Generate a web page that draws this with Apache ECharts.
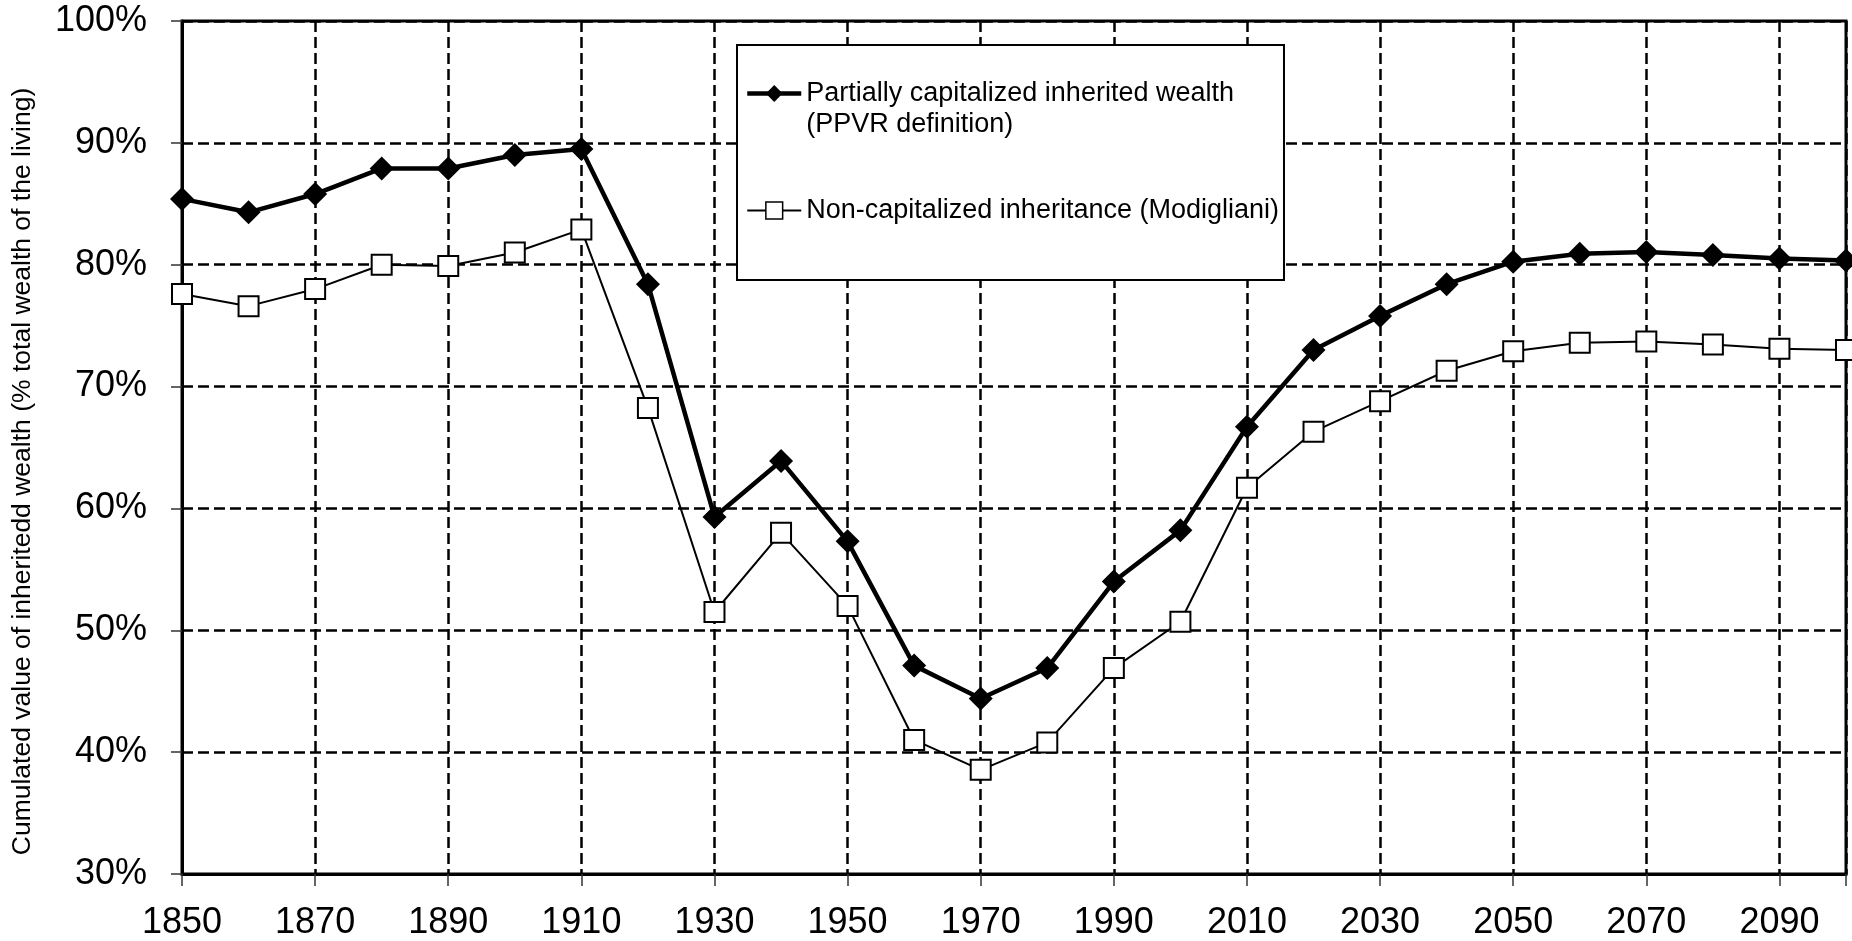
<!DOCTYPE html>
<html>
<head>
<meta charset="utf-8">
<title>Inherited wealth</title>
<script src="https://cdn.jsdelivr.net/npm/echarts@6/dist/echarts.min.js"></script>
<style>
html,body{margin:0;padding:0;background:#fff;}
#chart{width:1852px;height:941px;}
</style>
</head>
<body>
<div id="chart"></div>
<script>
// years, every decade
var years = [1850,1860,1870,1880,1890,1900,1910,1920,1930,1940,1950,1960,1970,1980,1990,2000,2010,2020,2030,2040,2050,2060,2070,2080,2090,2100];
// % of total wealth of the living
var capitalized = [85.4,84.3,85.8,87.9,87.9,89.0,89.5,78.4,59.3,63.9,57.3,47.1,44.4,46.9,54.0,58.2,66.7,73.0,75.8,78.4,80.25,80.9,81.05,80.8,80.5,80.35];
var nonCapitalized = [77.6,76.6,78.0,80.0,79.9,81.0,82.9,68.25,51.5,58.0,52.0,41.0,38.55,40.8,46.9,50.7,61.7,66.3,68.8,71.3,72.9,73.6,73.7,73.45,73.1,73.0];

var nameA = 'Partially capitalized inherited wealth (PPVR definition)';
var nameB = 'Non-capitalized inheritance (Modigliani)';

function pairs(vals){
	var out = [];
	for (var i = 0; i < years.length; i++) out.push([years[i], vals[i]]);
	return out;
}

var chart = echarts.init(document.getElementById('chart'));
var font = '"Liberation Sans", Arial, sans-serif';

chart.setOption({
	animation: false,
	backgroundColor: '#fff',
	textStyle: {fontFamily: font, color: '#000'},
	grid: {
		left: 182, right: 6, top: 21, bottom: 66,
		show: true, borderColor: '#000', borderWidth: 3, backgroundColor: '#fff'
	},
	legend: {
		orient: 'vertical',
		left: 737, top: 45,
		padding: [2, 5, 54, 8],
		itemWidth: 54, itemHeight: 21, itemGap: 55,
		backgroundColor: '#fff',
		borderColor: '#000', borderWidth: 2,
		selectedMode: false,
		data: [
			{name: nameA, lineStyle: {width: 4.5, color: '#000'}, itemStyle: {color: '#000', borderWidth: 0}},
			{name: nameB, lineStyle: {width: 2, color: '#000'}, itemStyle: {color: '#fff', borderColor: '#000', borderWidth: 1.5}}
		],
		formatter: function(name){
			// keep the icon on the first text line
			if (name === nameA) return '\nPartially capitalized inherited wealth\n(PPVR definition)';
			return name;
		},
		textStyle: {fontFamily: font, fontSize: 27, lineHeight: 31, color: '#000'}
	},
	xAxis: {
		type: 'value',
		min: 1850, max: 2100, interval: 20,
		axisLine: {lineStyle: {color: '#000', width: 3}},
		axisTick: {show: true, length: 12, lineStyle: {color: '#333', width: 1.5}},
		axisLabel: {
			fontSize: 36, margin: 31, color: '#000', fontFamily: font,
			formatter: function(v){ return v === 2100 ? '' : String(v); }
		},
		splitLine: {show: true, lineStyle: {color: '#000', width: 2.5, type: [11, 5]}}
	},
	yAxis: {
		type: 'value',
		min: 30, max: 100, interval: 10,
		name: 'Cumulated value of inheritedd wealth (% total wealth of the living)',
		nameLocation: 'middle',
		nameGap: 146,
		nameTextStyle: {fontSize: 26.5, color: '#000', fontFamily: font, padding: [0, 48, 0, 0]},
		axisLine: {show: true, lineStyle: {color: '#000', width: 3}},
		axisTick: {show: true, length: 11, lineStyle: {color: '#333', width: 1.5}},
		axisLabel: {fontSize: 36, margin: 35, color: '#000', fontFamily: font, formatter: '{value}%'},
		splitLine: {show: true, lineStyle: {color: '#000', width: 2.5, type: [11, 5]}}
	},
	series: [{
		name: nameB,
		type: 'line',
		data: pairs(nonCapitalized),
		symbol: 'rect',
		symbolSize: 20,
		lineStyle: {color: '#000', width: 2},
		itemStyle: {color: '#fff', borderColor: '#000', borderWidth: 2},
		z: 3
	}, {
		name: nameA,
		type: 'line',
		data: pairs(capitalized),
		symbol: 'diamond',
		symbolSize: 24,
		lineStyle: {color: '#000', width: 4.5},
		itemStyle: {color: '#000'},
		z: 4
	}]
});
window.onresize = chart.resize;
</script>
</body>
</html>
